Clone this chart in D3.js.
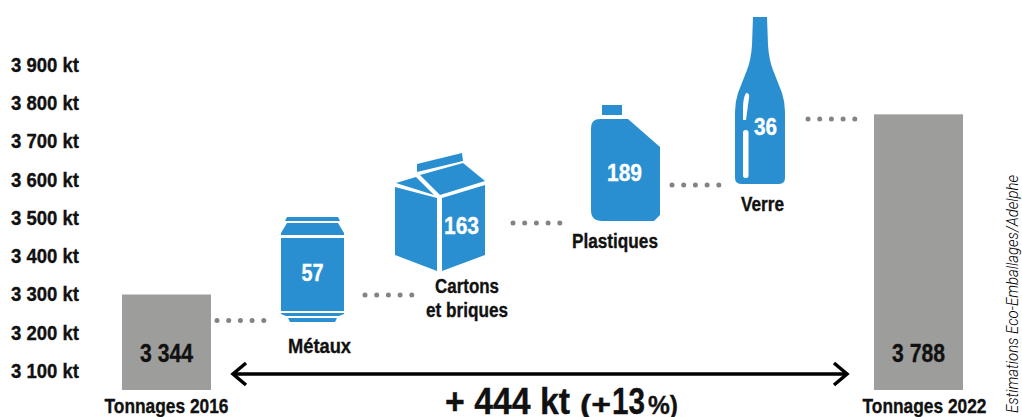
<!DOCTYPE html>
<html>
<head>
<meta charset="utf-8">
<script src="https://cdn.jsdelivr.net/npm/d3@7"></script>
<style>
	html, body { margin: 0; padding: 0; background: #fff; }
	svg { display: block; }
	text { font-family: "Liberation Sans", sans-serif; font-weight: bold; fill: #111; stroke: #111; stroke-width: 0.35px; }
</style>
</head>
<body>
<div id="chart"></div>
<script>
// Axis ticks (kt)
const tickValues = [3100, 3200, 3300, 3400, 3500, 3600, 3700, 3800, 3900]

// Bars: height read against the printed axis, label as printed
const barYears = [2016, 2022]
const barTops = [3300, 3771]
const barLabels = ["3 344", "3 788"]
const barNames = ["Tonnages 2016", "Tonnages 2022"]

// Material steps
const materials = ["Métaux", "Cartons", "Plastiques", "Verre"]
const materialValues = [57, 163, 189, 36]

const width = 1022
const height = 417
const blue = "#2a8fd0"

const svg = d3
	.select("#chart")
	.append("svg")
	.attr("width", width)
	.attr("height", height)

const xScale = d3.scaleLinear().domain([2016, 2022]).range([122, 874])
const yScale = d3.scaleLinear().domain([3100, 3900]).range([371, 65])
const barWidth = 89
const baseY = 390

// The original face is condensed, so squeeze each label to its printed width
function label(str, x, y, size, fit, anchor = "middle") {
	return svg
		.append("text")
		.attr("x", x)
		.attr("y", y)
		.attr("text-anchor", anchor)
		.attr("textLength", fit)
		.attr("lengthAdjust", "spacingAndGlyphs")
		.style("font-size", size + "px")
		.text(str)
}

// Left axis
const axis = svg
	.append("g")
	.attr("transform", "translate(79,0)")
	.call(
		d3
			.axisLeft(yScale)
			.tickValues(tickValues)
			.tickSize(0)
			.tickPadding(0)
			.tickFormat((d) => d3.format(",")(d).replace(",", " ") + " kt")
	)
axis.select(".domain").remove()
axis.selectAll("text")
	.attr("textLength", 68)
	.attr("lengthAdjust", "spacingAndGlyphs")
	.style("font-family", '"Liberation Sans", sans-serif')
	.style("font-size", "20px")
	.style("font-weight", "bold")

// Bars
barYears.forEach((year, i) => {
	const x = xScale(year)
	const top = yScale(barTops[i])
	svg.append("rect")
		.attr("x", x)
		.attr("y", top)
		.attr("width", barWidth)
		.attr("height", baseY - top)
		.attr("fill", "#9d9d9c")

	label(barLabels[i], x + barWidth / 2, 362, 25, 53)
	label(barNames[i], x + barWidth / 2 + (i === 0 ? 0 : 6), 413, 21, 124)
})

// Pictograms, drawn in page pixels
const icons = svg.append("g").attr("fill", blue)

// Can
icons.append("path").attr("d", "M287,217H338L340,221H285Z")
icons.append("path").attr("d", "M287,223H338L344,233V235H281V233Z")
icons.append("rect").attr("x", 281).attr("y", 238).attr("width", 63).attr("height", 73)
icons.append("path").attr("d", "M281,313H344V314L339,316H286L281,314Z")
icons.append("path").attr("d", "M288,318H337L335,322H290Z")

// Carton
icons.append("path").attr("d", "M395,187L437,198V271L395,255Z")
icons.append("path").attr("d", "M442,198L485,185V255L442,271Z")
icons.append("path").attr("d", "M396,183L416,177L434,195Z")
icons.append("path").attr("d", "M420,175L463,163L485,181L440,195Z")
icons.append("path").attr("d", "M417,164L462,153L463,161L417,172Z")

// Jug
icons.append("rect").attr("x", 602).attr("y", 105).attr("width", 20).attr("height", 10)
icons.append("path").attr(
	"d",
	"M600,119H628L660,147V215L654,221H602Q591,221 591,210V128Q591,119 600,119Z"
)

// Bottle
icons.append("path").attr(
	"d",
	"M753,17H767L768,45Q769,60 773,70L782,93Q785,102 785,112V178Q785,184 778,184H742Q735,184 735,178V112Q735,102 738,93L747,70Q751,60 752,45Z"
)
const highlights = svg.append("g").attr("fill", "#fff")
highlights.append("path").attr("d", "M746,93Q750,93 749,98L746,120H743V108Q743,98 746,93Z")
highlights.append("rect").attr("x", 743).attr("y", 130).attr("width", 5.5).attr("height", 48).attr("rx", 2.5)

// Values on the pictograms
const valueSpots = [
	{ x: 312.5, y: 281, fit: 22 },
	{ x: 461.5, y: 234, fit: 35 },
	{ x: 624.5, y: 181, fit: 35 },
	{ x: 765.5, y: 135, fit: 23 },
]
materialValues.forEach((v, i) => {
	const s = valueSpots[i]
	label(v, s.x, s.y, 24, s.fit).style("fill", "#fff").style("stroke", "#fff")
})

// Material names
const nameSpots = [
	{ x: 319.5, y: 353, fit: 63 },
	{ x: 467, y: 293, fit: 64 },
	{ x: 615, y: 248, fit: 86 },
	{ x: 762.5, y: 211, fit: 43 },
]
materials.forEach((name, i) => {
	const s = nameSpots[i]
	label(name, s.x, s.y, 20, s.fit)
})
label("et briques", 467, 317, 20, 82)

// Dotted connectors
const connectors = [
	{ x: 217, y: 320.5 },
	{ x: 365, y: 295 },
	{ x: 513, y: 223 },
	{ x: 672, y: 185 },
	{ x: 808, y: 119 },
]
connectors.forEach((c) => {
	svg.append("g")
		.selectAll("circle")
		.data(d3.range(5))
		.join("circle")
		.attr("cx", (d) => c.x + d * 11.7)
		.attr("cy", c.y)
		.attr("r", 2.5)
		.attr("fill", "#868280")
})

// Double arrow
const arrow = svg
	.append("g")
	.attr("fill", "none")
	.attr("stroke", "#000")
	.attr("stroke-width", 3.5)
arrow.append("line").attr("x1", 233).attr("x2", 846).attr("y1", 374).attr("y2", 374)
arrow.append("path").attr("d", "M246,363L233,374L246,385")
arrow.append("path").attr("d", "M834,363L847,374L834,385")

// Total, four pieces at their printed widths
label("+ 444 kt", 445, 414, 37, 125, "start")
label("(+", 580, 414, 27, 31, "start")
label("13", 612, 414, 37, 33, "start")
label("%)", 648, 414, 26, 30, "start")

// Source
svg.append("text")
	.attr("transform", "translate(1018,413) rotate(-90)")
	.attr("textLength", 238)
	.attr("lengthAdjust", "spacingAndGlyphs")
	.style("font-family", "Roboto, sans-serif")
	.style("font-size", "16px")
	.style("font-weight", 300)
	.style("font-style", "italic")
	.style("fill", "#000")
	.style("stroke", "none")
	.text("Estimations Eco-Emballages/Adelphe")
</script>
</body>
</html>
